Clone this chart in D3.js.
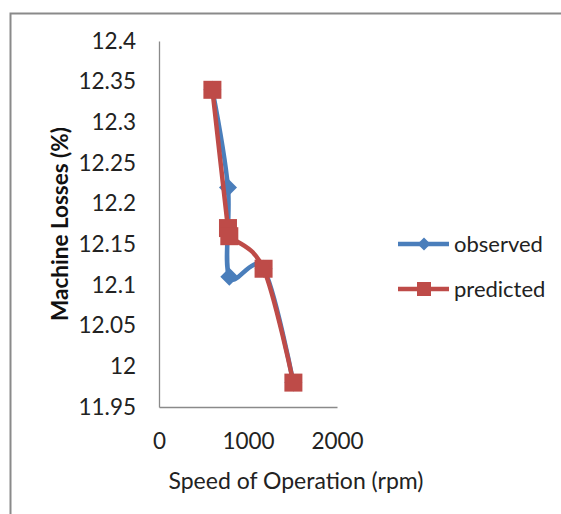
<!DOCTYPE html>
<html>
<head>
<meta charset="utf-8">
<script src="https://cdn.jsdelivr.net/npm/d3@7"></script>
<style>
  body { margin: 0; background: #fff; }
  svg { display: block; font-family: Lato, "Open Sans", sans-serif; }
</style>
</head>
<body>
<script>
// speed (rpm) and machine losses (%)
const speeds = [600, 775, 790, 1175, 1510];
const observed = [12.34, 12.22, 12.11, 12.12, 11.98];
const predicted = [12.34, 12.17, 12.16, 12.12, 11.98];
const xTicks = [0, 1000, 2000];
const yTicks = [11.95, 12, 12.05, 12.1, 12.15, 12.2, 12.25, 12.3, 12.35, 12.4];
const seriesNames = ["observed", "predicted"];

const width = 561, height = 514;
const plot = {left: 159, right: 337, top: 41, bottom: 407};
const blue = "#4a7ebb", red = "#be4b48";

const svg = d3.select("body").append("svg")
  .attr("width", width)
  .attr("height", height);

// chart frame
svg.append("rect")
  .attr("x", 10.5).attr("y", 13.5)
  .attr("width", 600).attr("height", 600)
  .attr("fill", "none")
  .attr("stroke", "#8a8a8a")
  .attr("stroke-width", 2);

const x = d3.scaleLinear().domain([0, 2000]).range([plot.left, plot.right]);
const y = d3.scaleLinear().domain([11.95, 12.4]).range([plot.bottom, plot.top]);

// axes, no tick marks
const gx = svg.append("g")
  .attr("transform", `translate(0,${plot.bottom})`)
  .call(d3.axisBottom(x).tickValues(xTicks).tickSize(0).tickPadding(26).tickFormat(d3.format("d")));
const gy = svg.append("g")
  .attr("transform", `translate(${plot.left},0)`)
  .call(d3.axisLeft(y).tickValues(yTicks).tickSize(0).tickPadding(23).tickFormat(d => String(+d.toFixed(2))));

[gx, gy].forEach(g => {
  g.select(".domain").attr("stroke", "#8a8a8a").attr("stroke-width", 1.3);
  g.selectAll("text").attr("font-size", 22.5).attr("fill", "#222").attr("font-family", "Lato, sans-serif");
});
gx.selectAll("text").attr("dy", "0.71em");

svg.append("text")
  .attr("x", 296).attr("y", 489)
  .attr("text-anchor", "middle")
  .attr("font-size", 23)
  .attr("fill", "#222")
  .text("Speed of Operation (rpm)");

svg.append("text")
  .attr("transform", "translate(68,224) rotate(-90)")
  .attr("text-anchor", "middle")
  .attr("font-size", 22.5)
  .attr("font-weight", "bold")
  .attr("fill", "#111")
  .text("Machine Losses (%)");

const line = d3.line()
  .x(d => x(d[0]))
  .y(d => y(d[1]))
  .curve(d3.curveCardinal.tension(0));

const obsPts = speeds.map((s, i) => [s, observed[i]]);
const predPts = speeds.map((s, i) => [s, predicted[i]]);

function diamond(r) {
  return `M0,${-r}L${r},0L0,${r}L${-r},0Z`;
}

// observed series
svg.append("path")
  .attr("d", line(obsPts))
  .attr("fill", "none")
  .attr("stroke", blue)
  .attr("stroke-width", 4.5)
  .attr("stroke-linejoin", "round");
svg.selectAll(".obs").data(obsPts).join("path")
  .attr("class", "obs")
  .attr("transform", d => `translate(${x(d[0])},${y(d[1])})`)
  .attr("d", diamond(9))
  .attr("fill", blue);

// predicted series
svg.append("path")
  .attr("d", line(predPts))
  .attr("fill", "none")
  .attr("stroke", red)
  .attr("stroke-width", 4.5)
  .attr("stroke-linejoin", "round");
svg.selectAll(".pred").data(predPts).join("rect")
  .attr("class", "pred")
  .attr("x", d => x(d[0]) - 9)
  .attr("y", d => y(d[1]) - 9)
  .attr("width", 18).attr("height", 18)
  .attr("fill", red);

// legend
const legend = svg.append("g");
seriesNames.forEach((name, i) => {
  const ly = 244 + i * 45;
  const col = i === 0 ? blue : red;
  legend.append("line")
    .attr("x1", 398).attr("x2", 449)
    .attr("y1", ly).attr("y2", ly)
    .attr("stroke", col).attr("stroke-width", 4.5);
  if (i === 0) {
    legend.append("path")
      .attr("transform", `translate(424,${ly})`)
      .attr("d", diamond(6.5))
      .attr("fill", col);
  } else {
    legend.append("rect")
      .attr("x", 417).attr("y", ly - 7)
      .attr("width", 14).attr("height", 14)
      .attr("fill", col);
  }
  legend.append("text")
    .attr("x", 454).attr("y", ly)
    .attr("dy", "0.35em")
    .attr("font-size", 22)
    .attr("fill", "#222")
    .text(name);
});
</script>
</body>
</html>
